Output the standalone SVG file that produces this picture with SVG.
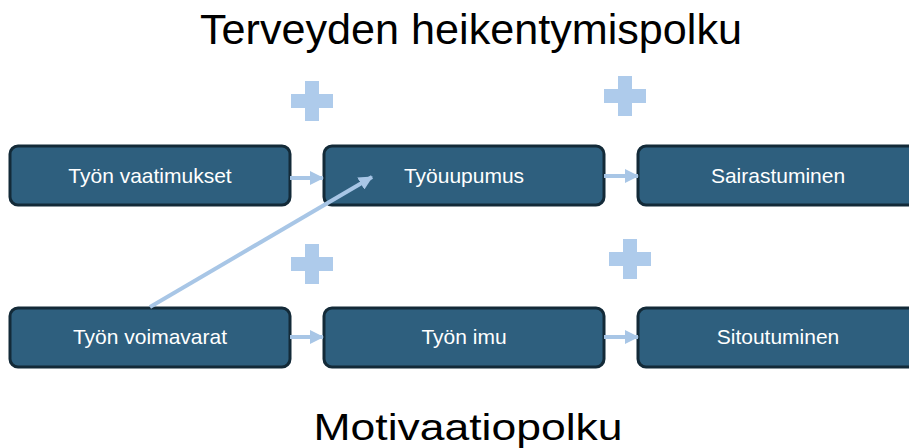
<svg xmlns="http://www.w3.org/2000/svg" width="909" height="448" viewBox="0 0 909 448">
<style>
.box{fill:#2e5f7e;stroke:#132a38;stroke-width:3}
.lbl{font-family:"Liberation Sans",Arial,sans-serif;font-size:21px;fill:#ffffff;text-anchor:middle}
.title{font-family:"Liberation Sans",Arial,sans-serif;fill:#000000;text-anchor:middle}
.plus{fill:#aecbeb}
.conn{stroke:#a8c6e6;stroke-width:4;fill:none;marker-end:url(#ah)}
</style>
<defs>
<marker id="ah" markerUnits="userSpaceOnUse" markerWidth="14" markerHeight="14" viewBox="0 0 14 14" refX="13" refY="7" orient="auto">
<path d="M0,0 L14,7 L0,14 Z" fill="#a8c6e6"/>
</marker>
<path id="plusShape" d="M-7,-20 H7 V-7 H21 V7 H7 V20 H-7 V7 H-21 V-7 H-7 Z"/>
</defs>
<text class="title" x="471" y="44" font-size="42" textLength="542" lengthAdjust="spacingAndGlyphs">Terveyden heikentymispolku</text>
<text class="title" x="468" y="440" font-size="36" textLength="309" lengthAdjust="spacingAndGlyphs">Motivaatiopolku</text>
<g id="plus1"><use href="#plusShape" class="plus" x="312" y="101"/></g>
<g id="plus2"><use href="#plusShape" class="plus" x="625" y="96"/></g>
<g id="plus3"><use href="#plusShape" class="plus" x="312" y="264"/></g>
<g id="plus4"><use href="#plusShape" class="plus" x="630" y="259"/></g>
<g id="n1"><rect class="box" x="10" y="146" width="280" height="59" rx="8"/><text class="lbl" x="150" y="183">Työn vaatimukset</text></g>
<g id="n2"><rect class="box" x="324" y="146" width="280" height="59" rx="8"/><text class="lbl" x="464" y="183">Työuupumus</text></g>
<g id="n3"><rect class="box" x="638" y="146" width="280" height="59" rx="8"/><text class="lbl" x="778" y="183">Sairastuminen</text></g>
<g id="n4"><rect class="box" x="10" y="308" width="280" height="59" rx="8"/><text class="lbl" x="150" y="344">Työn voimavarat</text></g>
<g id="n5"><rect class="box" x="324" y="308" width="280" height="59" rx="8"/><text class="lbl" x="464" y="344">Työn imu</text></g>
<g id="n6"><rect class="box" x="638" y="308" width="280" height="59" rx="8"/><text class="lbl" x="778" y="344">Sitoutuminen</text></g>
<g id="connectors">
<line class="conn" x1="290" y1="178" x2="323" y2="178"/>
<line class="conn" x1="604" y1="176" x2="638" y2="176"/>
<line class="conn" x1="290" y1="337" x2="323" y2="337"/>
<line class="conn" x1="604" y1="337" x2="638" y2="337"/>
<line class="conn" x1="150" y1="307" x2="372" y2="177"/>
</g>
</svg>
